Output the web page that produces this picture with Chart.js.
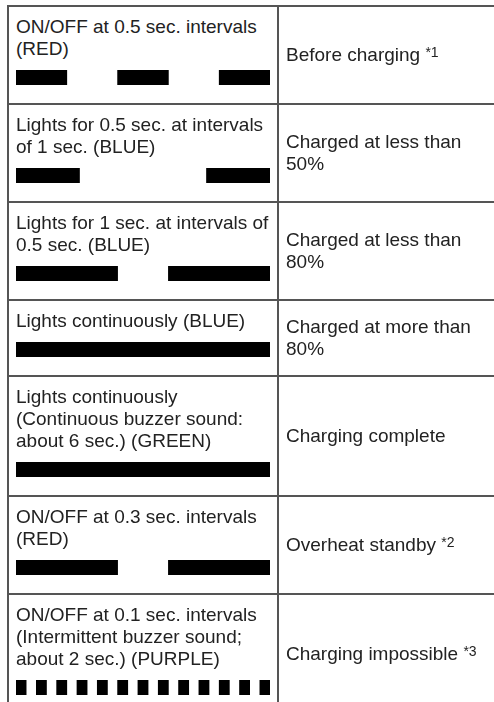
<!DOCTYPE html>
<html>
<head>
<meta charset="utf-8">
<script src="https://cdn.jsdelivr.net/npm/chart.js@4.4.1/dist/chart.umd.min.js"></script>
<style>
  html, body { margin: 0; padding: 0; background: #fff; }
  body { width: 494px; height: 702px; overflow: hidden; position: relative; }
  table {
    position: absolute; left: 7px; top: 5px;
    border-collapse: collapse; table-layout: fixed; width: 620px;
    font-family: "Liberation Sans", Arial, sans-serif; font-size: 19px; line-height: 22px; color: #222;
  }
  td { border: 2px solid #555; vertical-align: middle; padding: 0; }
  td.led { width: 255px; padding: 9px 6px 18px 7px; vertical-align: top; }
  td.state { padding-left: 7px; }
  .bar { margin-top: 10px; height: 15px; }
  .bar canvas { display: block; }
  sup { font-size: 14px; vertical-align: 4px; line-height: 0; }
</style>
</head>
<body>
<table id="tbl"></table>
<script>
// left column: indicator description, one entry per line
const indicatorLines = [
  ['ON/OFF at 0.5 sec. intervals', '(RED)'],
  ['Lights for 0.5 sec. at intervals', 'of 1 sec. (BLUE)'],
  ['Lights for 1 sec. at intervals of', '0.5 sec. (BLUE)'],
  ['Lights continuously (BLUE)'],
  ['Lights continuously', '(Continuous buzzer sound:', 'about 6 sec.) (GREEN)'],
  ['ON/OFF at 0.3 sec. intervals', '(RED)'],
  ['ON/OFF at 0.1 sec. intervals', '(Intermittent buzzer sound;', 'about 2 sec.) (PURPLE)']
];
// right column: charging state
const stateLines = [
  ['Before charging', '*1'],
  ['Charged at less than', '50%'],
  ['Charged at less than', '80%'],
  ['Charged at more than', '80%'],
  ['Charging complete'],
  ['Overheat standby', '*2'],
  ['Charging impossible', '*3']
];

// lamp ON periods in seconds, [start, end]
const onRed05 = [[0, 0.5], [1, 1.5], [2, 2.5]];
const onBlue05 = [[0, 0.5], [1.5, 2]];
const onBlue1 = [[0, 1], [1.5, 2.5]];
const onBlueSteady = [[0, 2.5]];
const onGreenSteady = [[0, 2.5]];
const onRed03 = [[0, 0.6], [0.9, 1.5]];
const onPurple01 = [[0, 0.1], [0.2, 0.3], [0.4, 0.5], [0.6, 0.7], [0.8, 0.9], [1.0, 1.1], [1.2, 1.3],
                    [1.4, 1.5], [1.6, 1.7], [1.8, 1.9], [2.0, 2.1], [2.2, 2.3], [2.4, 2.5]];
// time shown across each strip
const timeSpans = [2.5, 2, 2.5, 2.5, 2.5, 1.5, 2.5];

const patterns = [onRed05, onBlue05, onBlue1, onBlueSteady, onGreenSteady, onRed03, onPurple01];

const tbl = document.getElementById('tbl');
indicatorLines.forEach(function (lines, i) {
  const tr = document.createElement('tr');
  const left = document.createElement('td');
  left.className = 'led';
  left.innerHTML = lines.join('<br>') + '<div class="bar"><canvas id="c' + i + '" width="254" height="15"></canvas></div>';
  const right = document.createElement('td');
  right.className = 'state';
  const st = stateLines[i];
  if (st[1] && st[1].charAt(0) === '*') {
    right.innerHTML = st[0] + ' <sup>' + st[1] + '</sup>';
  } else {
    right.innerHTML = st.join('<br>');
  }
  tr.appendChild(left);
  tr.appendChild(right);
  tbl.appendChild(tr);
});

function drawPattern(canvas, segments, span) {
  new Chart(canvas, {
    type: 'bar',
    data: {
      labels: ['on'],
      datasets: [{
        data: segments.map(s => ({ x: s, y: 'on' })),
        backgroundColor: '#000',
        borderWidth: 0,
        barPercentage: 1,
        categoryPercentage: 1
      }]
    },
    options: {
      indexAxis: 'y',
      responsive: false,
      animation: false,
      devicePixelRatio: 1,
      layout: { padding: 0 },
      plugins: { legend: { display: false }, tooltip: { enabled: false } },
      scales: {
        x: { type: 'linear', min: 0, max: span, display: false },
        y: { display: false }
      }
    }
  });
}

patterns.forEach(function (seg, i) {
  drawPattern(document.getElementById('c' + i), seg, timeSpans[i]);
});
</script>
</body>
</html>
